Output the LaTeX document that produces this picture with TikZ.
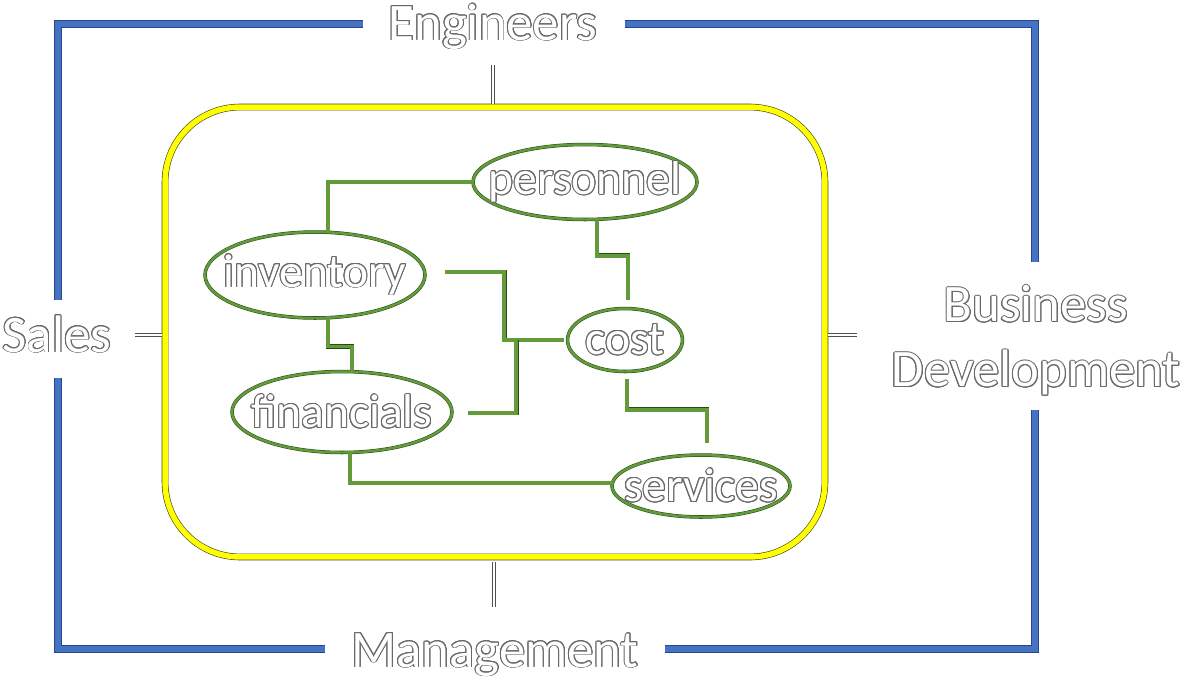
\documentclass[tikz,border=0pt]{standalone}
\usepackage{fontspec}
\setmainfont{Carlito}
\usepackage{contour}
\usetikzlibrary{shapes.geometric,calc}
\definecolor{frmblue}{RGB}{68,114,196}
\definecolor{frmedge}{RGB}{40,70,130}
\definecolor{coreyel}{RGB}{255,255,0}
\definecolor{coreedge}{RGB}{70,70,20}
\definecolor{grn}{RGB}{100,155,58}
\definecolor{grnedge}{RGB}{40,75,22}
\definecolor{txtedge}{RGB}{105,105,105}
\definecolor{tickedge}{RGB}{80,80,80}
\contourlength{0.55pt}
\newcommand{\outl}[1]{\contour{txtedge}{#1}}
\tikzset{
  %% outer bracket frame
  frame/.style={draw=frmedge,double=frmblue,line width=0.5pt,double distance=3.4pt},
  %% yellow core box
  corebox/.style={rectangle,rounded corners=1.5cm,draw=coreedge,double=coreyel,
    line width=0.35pt,double distance=3.1pt,minimum width=13.2cm,minimum height=9cm},
  %% short white ticks
  tickline/.style={draw=tickedge,double=white,line width=0.5pt,double distance=1.4pt},
  %% green ellipses and links
  oval/.style={ellipse,draw=grnedge,double=grn,line width=0.3pt,double distance=1.4pt,
    inner sep=0pt},
  link/.style={draw=grnedge,double=grn,line width=0.35pt,double distance=2pt},
  %% outlined texts
  grp/.style={text=white,inner sep=0pt,font=\fontsize{30}{37}\selectfont,align=center},
  itxt/.style={text=white,inner sep=0pt,font=\fontsize{27}{30}\selectfont},
}
\begin{document}
\begin{tikzpicture}[x=0.02cm,y=-0.02cm]
  \useasboundingbox (0,0) rectangle (1191,681);

  % group labels
  \node[grp,anchor=base] (eng)    at (493,40)  {\outl{Engineers}};
  \node[grp,anchor=base] (sales)  at (57,352)  {\outl{Sales}};
  \node[grp]             (bizdev) at (1036,341) {\outl{Business}\\\outl{Development}};
  \node[grp,anchor=base] (mgmt)   at (495,667) {\outl{Management}};

  % frame
  \draw[frame] (363,24) -- (58,24) -- (58,300);
  \draw[frame] (58,378) -- (58,649) -- (325,649);
  \draw[frame] (665,649) -- (1035,649) -- (1035,410);
  \draw[frame] (1035,262) -- (1035,24) -- (625,24);

  % core
  \node[corebox] (core) at (495,332) {};
  \draw[tickline] ($(core.north)+(-2,-3)$) -- ($(core.north)+(-2,-42)$);
  \draw[tickline] ($(core.south)+(-1,5)$) -- ($(core.south)+(-1,50)$);
  \draw[tickline] ($(core.west)+(-3,3)$) -- ($(core.west)+(-30,3)$);
  \draw[tickline] ($(core.east)+(3,3)$) -- ($(core.east)+(32,3)$);

  % topics
  \node[oval,minimum width=4.48cm,minimum height=1.5cm,label={[itxt]center:\outl{personnel}}] (pers) at (585,182) {};
  \node[oval,minimum width=4.4cm,minimum height=1.72cm,label={[itxt]center:\outl{inventory}}] (inv) at (315,275) {};
  \node[oval,minimum width=2.3cm,minimum height=1.26cm,label={[itxt]center:\outl{cost}}] (cost) at (625,340) {};
  \node[oval,minimum width=4.4cm,minimum height=1.62cm,label={[itxt]center:\outl{financials}}] (fin) at (342,412) {};
  \node[oval,minimum width=3.56cm,minimum height=1.24cm,label={[itxt]center:\outl{services}}] (serv) at (701,486) {};

  \draw[link] (pers.west) -| ($(inv.north)+(13,1)$);
  \draw[link] ($(pers.south)+(12,0)$) -- ++(0,36) -| ($(cost.north)+(3,-8)$);
  \draw[link] ($(inv.east)+(20,-3)$) -| ($(cost.west)+(-63,0)$) -- ($(cost.west)+(-3,0)$);
  \draw[link] ($(fin.east)+(16,1)$) -| ($(cost.west)+(-51,0)$);
  \draw[link] ($(cost.south)+(2,7)$) -- ++(0,31) -| ($(serv.north)+(6,-12)$);
  \draw[link] ($(inv.south)+(13,-2)$) -- ++(0,30) -| ($(fin.north)+(10,2)$);
  \draw[link] ($(fin.south)+(8,0)$) |- ($(serv.west)+(0,-3)$);
\end{tikzpicture}
\end{document}
